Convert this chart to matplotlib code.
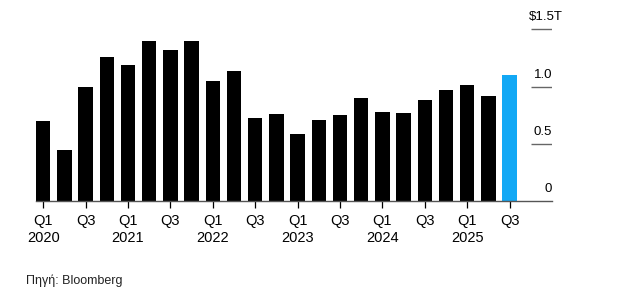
import matplotlib.pyplot as plt

# quarterly values, $ trillions, Q1 2020 .. Q3 2025
quarters = ['Q1', 'Q2', 'Q3', 'Q4'] * 5 + ['Q1', 'Q2', 'Q3']
years = ['2020', '2021', '2022', '2023', '2024', '2025']
values = [0.70, 0.45, 1.00, 1.26, 1.19, 1.40, 1.32, 1.40, 1.05, 1.14,
          0.73, 0.76, 0.585, 0.71, 0.75, 0.90, 0.78, 0.77, 0.88, 0.97,
          1.015, 0.915, 1.10]
ytick_vals = [0, 0.5, 1.0, 1.5]
ytick_labels = ['0', '0.5', '1.0', '$1.5T']

plt.rcParams['font.family'] = ['Liberation Sans', 'DejaVu Sans']

fig = plt.figure(figsize=(6.27, 3.01), dpi=100)
W, H = 627, 301
ax = fig.add_axes([36 / W, (H - 201.3) / H, (552 - 36) / W, (201.3 - 17.9) / H])

x = list(range(len(values)))
colors = ['black'] * (len(values) - 1) + ['#12A8F5']
ax.bar(x, values, width=0.68, color=colors, zorder=2)

ax.set_xlim(-0.34, 24.0)
ax.set_ylim(0, 1.6)

for s in ['top', 'right', 'left']:
    ax.spines[s].set_visible(False)
ax.spines['bottom'].set_color('#555555')
ax.spines['bottom'].set_linewidth(1.0)

ax.set_yticks([])
# short gridline segments under the right-hand labels
for v, lab in zip(ytick_vals, ytick_labels):
    if v > 0:
        ax.hlines(v, 23.0, 24.0, color='#666666', lw=1.0)
    xr = 24.0 if lab != '$1.5T' else 24.5
    ax.annotate(lab, (xr, v), xytext=(0, 6.5), textcoords='offset points',
                ha='right', va='baseline', fontsize=9.5, color='black',
                annotation_clip=False)

# Q1/Q3 ticks with year under Q1
tick_pos = [i for i in x if quarters[i] in ('Q1', 'Q3')]
tick_labels = []
for i in tick_pos:
    if quarters[i] == 'Q1':
        tick_labels.append('Q1\n' + years[i // 4])
    else:
        tick_labels.append('Q3')
ax.set_xticks(tick_pos)
ax.set_xticklabels(tick_labels, fontsize=10.5, linespacing=1.2, va='top')
ax.tick_params(axis='x', length=5, width=0.9, color='black', pad=4.5)

fig.text(26 / W, 1 - 281 / H, 'Πηγή: Bloomberg', fontsize=9,
         ha='left', va='center', color='#222222')

fig.savefig('out.png', dpi=100)
